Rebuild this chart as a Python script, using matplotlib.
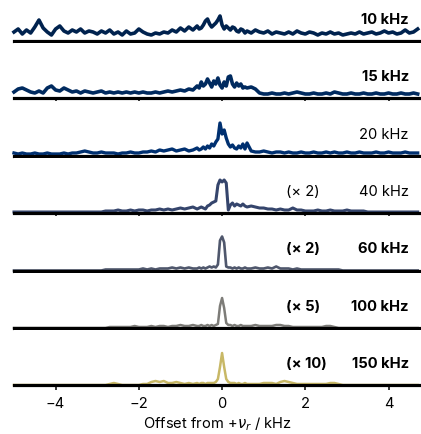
import numpy as np
import matplotlib.pyplot as plt
from matplotlib import cm

plt.rcParams['font.family'] = ['Inter', 'DejaVu Sans']

# offset grid (kHz): 0.1 steps, finer 0.05 steps around the centre line
offset = np.concatenate([np.arange(-50, -6) / 10,
                         np.arange(-12, 12) / 20,
                         np.arange(6, 48) / 10])

# intensities (arb. units)
i10 = [9, 12, 7, 11, 8, 14, 21, 13, 9, 6,
       12, 15, 10, 8, 11, 9, 12, 8, 10, 9,
       7, 10, 8, 11, 7, 9, 6, 10, 7, 8,
       12, 9, 7, 6, 8, 7, 9, 8, 11, 9,
       13, 10, 14, 11,
       15, 12, 13, 16, 20, 22, 17, 14, 16, 18,
       21, 25, 16, 12, 15, 13, 11, 14, 13, 10,
       9, 12, 11, 8,
       10, 8, 11, 9, 8, 10, 7, 9, 8, 7,
       9, 7, 10, 8, 7, 9, 8, 6, 8, 7,
       9, 7, 8, 6, 7, 8, 7, 9, 7, 8,
       9, 7, 8, 10, 8, 9, 7, 8, 11, 8,
       9, 12]
i15 = [6, 9, 10, 8, 6, 5, 7, 5, 10, 12,
       8, 7, 10, 8, 6, 7, 5, 7, 6, 5,
       6, 7, 5, 6, 5, 6, 5, 6, 5, 6,
       5, 6, 5, 5, 6, 5, 6, 7, 6, 7,
       8, 7, 9, 8,
       12, 10, 16, 12, 14, 19, 15, 11, 17, 14,
       20, 13, 10, 16, 12, 21, 22, 14, 11, 15,
       12, 14, 10, 11,
       10, 11, 9, 5, 4, 4, 5, 4, 4, 5,
       4, 5, 6, 5, 4, 4, 5, 4, 4, 5,
       4, 6, 5, 4, 4, 5, 4, 4, 5, 4,
       4, 5, 4, 4, 5, 4, 4, 5, 4, 4,
       5, 4]
i20 = [3, 2, 3, 2, 2, 3, 2, 2, 3, 2,
       2, 2, 3, 2, 3, 3, 4, 5, 4, 3,
       3, 4, 3, 3, 3, 2, 3, 3, 4, 3,
       3, 4, 4, 5, 4, 6, 5, 6, 7, 5,
       6, 7, 5, 6,
       8, 6, 7, 9, 7, 10, 8, 12, 10, 14,
       17, 33, 22, 26, 18, 12, 9, 11, 8, 7,
       10, 8, 12, 7,
       13, 5, 4, 4, 5, 4, 3, 4, 4, 3,
       4, 3, 3, 4, 3, 3, 4, 3, 3, 4,
       3, 4, 3, 3, 4, 3, 3, 4, 3, 3,
       3, 4, 3, 3, 4, 3, 3, 3, 4, 3,
       3, 3]
i40 = [1] * 22 + [2, 2, 2, 3, 2, 2, 3, 2, 3, 3,
                  2, 3, 3, 4, 3, 4, 3, 4, 5, 4,
                  5, 6] + \
      [4, 5, 6, 5, 4, 7, 8, 10, 11, 12,
       28, 33, 31, 33, 30, 3, 8, 10, 7, 9,
       8, 7, 9, 7] + \
      [6, 7, 6, 5, 5, 4, 4, 3, 4, 3,
       3, 5, 3, 3, 2, 2, 2, 3, 2, 2,
       3, 2, 2, 2, 3, 2, 2, 2, 2, 1,
       1] + [1] * 11
i60 = [0] * 22 + [1, 1, 1, 1, 1, 1, 1, 1, 1, 2,
                  1, 2, 1, 2, 2, 2, 3, 2, 3, 2,
                  3, 2] + \
      [2, 3, 2, 3, 2, 3, 4, 3, 4, 3,
       6, 30, 34, 28, 4, 3, 3, 2, 3, 2,
       3, 2, 2, 3] + \
      [2, 2, 3, 2, 2, 3, 2, 4, 2, 2,
       2, 1, 2, 1, 1, 1, 1, 1, 1, 1,
       1, 1, 1] + [0] * 19
i100 = [0] * 23 + [1, 1, 1, 1, 1, 1, 2, 1, 1, 1,
                   2, 1, 2, 2, 1, 2, 2, 3, 2, 2,
                   3] + \
       [2, 2, 3, 2, 2, 3, 2, 3, 2, 3,
        4, 22, 30, 20, 5, 3, 3, 2, 3, 2,
        2, 3, 2, 2] + \
       [2, 2, 3, 2, 2, 2, 2, 3, 3, 2,
        2, 1, 1, 1, 1, 1, 1, 1, 1, 2,
        2, 1] + [0] * 20
i150 = [0] * 23 + [1, 2, 1, 0, 0, 0, 0, 0, 1, 1,
                   3, 4, 3, 4, 2, 2, 3, 2, 1, 2,
                   1] + \
       [2, 1, 2, 2, 1, 2, 2, 2, 2, 3,
        6, 18, 32, 18, 6, 3, 2, 2, 2, 1,
        2, 1, 1, 2] + \
       [1, 1, 1, 1, 2, 2, 2, 1, 3, 4,
        3, 2, 1, 1, 1, 1, 1, 1, 1, 1,
        2, 2, 1] + [0] * 19

spectra = [i10, i15, i20, i40, i60, i100, i150]
labels = ['10 kHz', '15 kHz', '20 kHz', '40 kHz', '60 kHz', '100 kHz', '150 kHz']
scales = [None, None, None, '(× 2)', '(× 2)', '(× 5)', '(× 10)']
bold = [True, True, False, False, True, True, True]
shades = [0.0, 0.04, 0.08, 0.2, 0.3, 0.5, 0.8]
widths = [2.6, 2.6, 2.4, 2.2, 1.9, 1.8, 1.8]

W, H = 421, 435
spine_y = [42, 99, 157, 214, 271.5, 329, 386]
slot = 55
fs = 10.6

fig = plt.figure(figsize=(W / 100, H / 100), dpi=100)

for k, (y, lab, sc, b, sh) in enumerate(zip(spectra, labels, scales, bold, shades)):
    ax = fig.add_axes([14 / W, 1 - spine_y[k] / H, 1 - 14 / W, slot / H])
    ax.plot(offset, y, color=cm.cividis(sh), lw=widths[k], clip_on=False)
    ax.set_xlim(-5, 4.78)
    ax.set_ylim(0, slot)
    for s in ['top', 'left', 'right']:
        ax.spines[s].set_visible(False)
    ax.spines['bottom'].set_linewidth(2.3)
    ax.set_yticks([])
    ax.set_xticks([-4, -2, 0, 2, 4])
    ax.tick_params(axis='x', direction='out', length=3.5, width=1.1,
                   labelsize=fs, pad=4.5)
    wt = 'bold' if b else 'normal'
    ax.text(0.97, 0.40, lab, transform=ax.transAxes, ha='right', va='center',
            fontsize=fs, fontweight=wt)
    if sc:
        ax.text(0.668, 0.40, sc, transform=ax.transAxes, ha='left', va='center',
                fontsize=fs, fontweight=wt)
    if k < len(spectra) - 1:
        ax.tick_params(axis='x', labelbottom=False)
    else:
        ax.set_xlabel(r'Offset from +$\nu_r$ / kHz', fontsize=fs, labelpad=3)

fig.savefig('out.png', dpi=100)
